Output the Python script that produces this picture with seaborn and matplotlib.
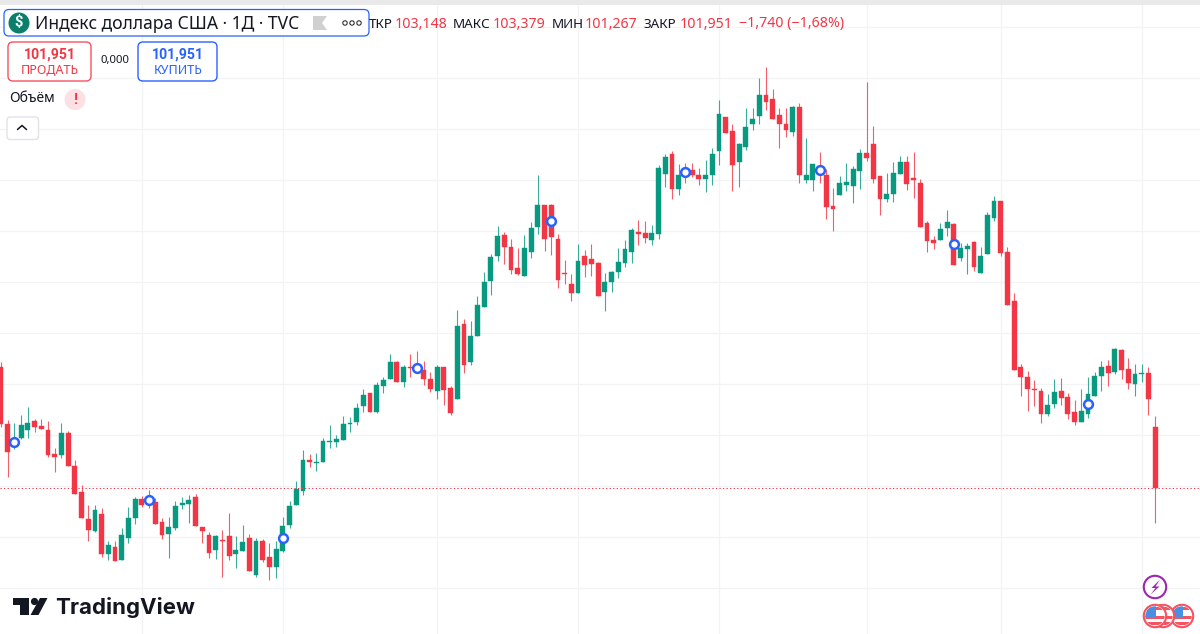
import numpy as np
import pandas as pd
import matplotlib
matplotlib.use('Agg')
import matplotlib.pyplot as plt
from matplotlib.patches import Circle, FancyBboxPatch, Polygon, Rectangle
import seaborn as sns

# Daily candles, oldest first
open_prices = [
    104.33,103.22,102.78,102.95,103.09,103.27,103.17,103.10,102.63,102.61,
    103.04,102.40,101.88,101.35,101.12,101.46,100.66,100.81,100.55,100.99,
    101.37,101.74,101.66,101.69,101.29,101.06,101.18,101.63,101.65,101.78,
    101.19,101.03,100.75,100.94,101.01,100.67,100.73,100.98,100.26,100.92,
    100.60,100.41,100.73,101.24,101.63,101.90,102.50,102.46,102.48,102.86,
    102.87,102.91,103.22,103.26,103.56,103.82,103.46,103.97,104.10,104.43,
    104.04,104.33,104.34,104.27,104.09,103.87,104.33,103.93,103.70,105.18,
    104.44,104.95,105.50,106.02,106.50,106.93,106.69,106.27,106.12,106.59,
    107.07,107.51,107.51,106.84,106.18,105.97,105.78,106.50,106.46,106.37,
    105.80,105.99,106.20,106.37,106.58,106.98,106.97,106.82,106.94,108.12,
    108.51,107.82,108.22,108.20,108.10,108.02,108.10,108.56,109.23,108.96,
    108.35,108.64,109.10,109.25,109.67,109.59,109.27,109.10,108.94,109.43,
    108.00,108.00,108.26,108.10,107.49,107.71,107.90,107.89,108.17,108.52,
    108.71,108.07,107.63,107.72,108.11,108.36,108.04,107.94,107.15,106.82,
    106.83,107.05,107.13,106.47,106.65,106.78,106.18,106.54,107.26,107.58,
    106.59,105.63,104.34,104.13,103.91,103.86,103.42,103.61,103.86,103.75,
    103.46,103.26,103.42,103.77,104.15,104.35,104.24,104.67,104.29,104.00,
    104.19,104.22,103.148]
high_prices = [
    104.43,103.29,103.24,103.39,103.54,103.31,103.31,103.27,102.74,103.24,
    103.07,102.50,102.01,101.63,101.63,101.56,100.92,100.92,101.18,101.58,
    101.79,101.81,101.92,101.77,101.37,101.39,101.70,101.78,101.83,101.84,
    101.19,101.10,101.04,101.14,101.48,101.02,101.24,101.05,100.99,100.97,
    100.89,100.92,101.39,101.71,102.10,102.71,102.62,102.64,102.95,103.19,
    103.00,103.37,103.35,103.62,103.90,103.82,104.04,104.14,104.59,104.46,
    104.37,104.59,104.65,104.45,104.24,104.37,104.33,103.96,105.46,105.27,
    105.23,105.72,106.19,106.55,107.10,106.98,106.84,106.66,106.93,107.18,
    108.09,107.51,107.53,106.95,106.44,106.15,106.75,106.63,106.74,106.39,
    106.17,106.22,106.66,106.82,107.05,107.21,107.19,107.12,108.29,108.51,
    108.57,108.31,108.33,108.33,108.24,108.40,108.62,109.56,109.24,109.10,
    108.72,109.41,109.41,109.99,110.22,109.79,109.41,109.41,109.45,109.50,
    108.82,108.31,108.54,108.22,107.84,108.07,108.33,108.27,108.60,109.92,
    109.06,108.07,108.13,108.35,108.47,108.48,108.54,108.01,107.20,106.91,
    107.15,107.41,107.16,106.76,106.76,106.80,106.68,107.37,107.69,107.58,
    106.68,105.79,104.40,104.26,104.07,103.93,103.80,104.09,104.11,103.82,
    103.69,103.91,104.14,104.24,104.45,104.48,104.71,104.68,104.50,104.40,
    104.39,104.33,103.379]
low_prices = [
    103.15,102.18,102.72,102.93,102.94,103.05,103.11,102.56,102.28,102.54,
    102.40,101.84,101.37,100.93,101.09,100.60,100.54,100.52,100.55,100.89,
    101.26,101.58,101.56,101.26,100.96,100.59,101.14,101.55,101.27,101.22,
    100.89,100.59,100.57,100.22,100.54,100.40,100.73,100.33,100.22,100.50,
    100.16,100.19,100.71,101.17,101.63,101.82,102.38,102.30,102.48,102.74,
    102.77,102.91,103.05,103.20,103.46,103.46,103.44,103.83,104.10,104.03,
    103.95,104.13,104.22,103.98,103.85,103.70,103.59,103.39,103.70,104.21,
    104.37,104.95,105.50,105.75,106.42,106.35,106.16,106.14,106.12,106.48,
    106.95,106.61,106.52,105.89,105.97,105.63,105.78,106.10,106.12,105.73,
    105.44,105.81,106.07,106.29,106.38,106.73,106.77,106.72,106.85,107.86,
    107.63,107.71,107.95,108.05,107.90,107.77,107.90,108.29,108.92,107.78,
    107.87,108.59,108.98,109.10,109.37,109.20,108.63,108.85,108.87,107.95,
    107.95,107.78,107.95,107.24,106.99,107.71,107.79,107.54,107.83,108.37,
    107.95,107.32,107.57,107.56,108.11,107.81,107.65,107.07,106.59,106.65,
    106.83,106.90,106.34,106.41,106.16,106.22,106.18,106.54,107.20,106.50,
    105.55,104.28,103.77,103.48,103.57,103.23,103.37,103.52,103.59,103.31,
    103.20,103.26,103.33,103.77,103.86,103.97,104.20,104.09,103.91,103.77,
    104.04,103.39,101.267]
close_prices = [
    103.22,102.67,102.92,103.20,103.24,103.16,103.12,102.60,102.56,103.04,
    102.40,101.84,101.37,101.13,101.52,100.66,100.85,100.53,101.03,101.37,
    101.75,101.63,101.77,101.26,101.04,101.19,101.61,101.67,101.73,101.22,
    101.11,100.69,101.02,100.93,100.63,100.75,100.90,100.33,100.92,100.55,
    100.41,100.76,101.22,101.61,101.94,102.50,102.48,102.48,102.88,102.88,
    102.92,103.22,103.24,103.53,103.78,103.46,103.98,104.08,104.43,104.03,
    104.33,104.31,104.26,104.10,103.90,104.33,103.88,103.44,105.14,104.37,
    104.95,105.54,105.99,106.49,106.90,106.69,106.24,106.16,106.66,107.05,
    107.51,106.85,106.89,106.04,106.16,105.78,106.41,106.34,106.35,105.73,
    105.99,106.19,106.40,106.64,107.02,106.95,106.86,106.97,108.24,108.45,
    107.82,108.10,108.09,108.10,108.02,108.10,108.51,109.29,108.93,108.29,
    108.71,109.03,109.20,109.67,109.52,109.20,109.09,108.98,109.43,108.09,
    108.10,108.31,108.13,107.48,107.44,107.94,107.96,108.22,108.52,108.44,
    108.01,107.63,107.73,108.13,108.35,107.93,107.99,107.08,106.81,106.76,
    107.04,107.18,106.34,106.66,106.71,106.29,106.50,107.31,107.58,106.56,
    105.55,104.28,104.14,103.90,103.89,103.41,103.58,103.84,103.73,103.41,
    103.25,103.47,103.80,104.16,104.33,104.22,104.69,104.27,104.01,104.20,
    104.22,103.70,101.951]

# Blue event circles
event_bars = [2, 22, 42, 62, 82, 102, 122, 142, 162]
event_prices = [102.86, 101.73, 100.98, 104.31, 107.20, 108.16, 108.20, 106.75, 103.61]

# Grid positions
grid_bars = [21, 42, 65, 86, 107, 129, 149, 170]
grid_prices = list(range(100, 112))

RED = '#F23645'
GREEN = '#089981'
BLUE = '#2962FF'
GRID = '#F2F3F5'
INK = '#131722'

sns.set_theme(style='white')
plt.rcParams['font.family'] = ['Noto Sans', 'DejaVu Sans']

df = pd.DataFrame({'bar': np.arange(len(open_prices)), 'open': open_prices, 'high': high_prices,
                   'low': low_prices, 'close': close_prices})
df['body'] = (df['close'] - df['open']).abs()
df['bottom'] = df[['open', 'close']].min(axis=1)
df['up'] = df['close'] > df['open']

fig = plt.figure(figsize=(12, 6.34), dpi=100, facecolor='white')
ax = fig.add_axes([0, 0, 1, 1])

# Candles
for is_up, color in [(True, GREEN), (False, RED)]:
    part = df[df['up'] == is_up]
    ax.vlines(part['bar'], part['low'], part['high'], color=color, linewidth=0.8, alpha=0.8, zorder=2)
    sns.barplot(data=part, x='bar', y='body', bottom=part['bottom'].values, native_scale=True,
                color=color, saturation=1, width=0.72, errorbar=None, edgecolor=color,
                linewidth=0.3, zorder=3, ax=ax)

# Last price line
ax.axhline(close_prices[-1], color=RED, linewidth=0.75, linestyle=(0, (1.2, 2.2)), zorder=4)

sns.scatterplot(x=event_bars, y=event_prices, s=40, facecolor='white', edgecolor=BLUE,
                linewidth=1.8, zorder=5, ax=ax)

ax.set_xlim(-0.149, 178.69)
ax.set_ylim(99.098, 111.529)
ax.set_xticks(grid_bars)
ax.set_yticks(grid_prices)
ax.set_xticklabels([])
ax.set_yticklabels([])
ax.tick_params(length=0)
ax.set_xlabel('')
ax.set_ylabel('')
ax.grid(True, color=GRID, linewidth=0.9)
ax.set_axisbelow(True)
sns.despine(ax=ax, left=True, bottom=True)

# Interface overlay in screen pixels
ui = fig.add_axes([0, 0, 1, 1], facecolor='none', zorder=10)
ui.set_xlim(0, 1200)
ui.set_ylim(634, 0)
ui.axis('off')
ui.add_patch(Rectangle((0, 0), 1200, 4.5, color='#E9E9EA', lw=0))


def box(x0, y0, x1, y1, edge, lw=1.0, r=5):
    ui.add_patch(FancyBboxPatch((x0 + r, y0 + r), x1 - x0 - 2 * r, y1 - y0 - 2 * r,
                                boxstyle='round,pad=%d,rounding_size=%d' % (r, r),
                                facecolor='white', edgecolor=edge, linewidth=lw))


def label(x, y, s, size=9.7, color=INK, ha='left', weight='normal', family=None):
    ui.text(x, y, s, fontsize=size, color=color, ha=ha, va='center', fontweight=weight,
            family=family or ['Noto Sans', 'DejaVu Sans'])


# Legend values sit behind the title box
label(369, 24, 'ТКР')
for x, s in [(395, '103,148'), (493, '103,379'), (585, '101,267'), (680, '101,951'),
             (739, '−1,740 (−1,68%)')]:
    label(x, 24, s, size=10.2, color=RED)
label(453, 24, 'МАКС')
label(552, 24, 'МИН')
label(644, 24, 'ЗАКР')

box(4, 9.5, 369, 36, BLUE, lw=0.9)
ui.add_patch(Circle((19, 23), 10.5, color='#0B7F6B', lw=0))
ui.text(19, 22.5, '$', color='white', fontsize=10.5, fontweight='bold', ha='center', va='center',
        family=['Roboto', 'DejaVu Sans'])
label(35, 24, 'Индекс доллара США · 1Д · TVC', size=12.6)
ui.add_patch(Polygon([(313, 16), (327, 16), (322, 23), (327, 30), (313, 30)], color='#D0D0D0', lw=0))
for cx in [345, 352, 359]:
    ui.add_patch(Circle((cx, 23), 2.2, facecolor='white', edgecolor='#333333', linewidth=0.8))

box(8, 42, 91, 81, '#F7525F')
label(50, 54.5, '101,951', color=RED, ha='center', weight='bold', size=10.2, family=['Roboto', 'DejaVu Sans'])
label(50, 70.5, 'ПРОДАТЬ', color=RED, ha='center', size=9)
label(115, 60.5, '0,000', ha='center', size=8.2)
box(138, 42, 217, 81, BLUE)
label(178, 54.5, '101,951', color=BLUE, ha='center', weight='bold', size=10.2, family=['Roboto', 'DejaVu Sans'])
label(178, 70.5, 'КУПИТЬ', color=BLUE, ha='center', size=9)

label(9, 99, 'Объём', size=10)
ui.add_patch(Circle((75, 99.5), 10.5, color='#FDE0E3', lw=0))
label(75, 99.5, '!', color=RED, ha='center', weight='bold', size=11, family=['Roboto', 'DejaVu Sans'])

box(7, 117, 38.5, 139.5, '#E0E3EB', r=3)
ui.plot([17.5, 22, 26.5], [129.5, 125.5, 129.5], color=INK, linewidth=1.1)

# TradingView logo
ui.add_patch(Polygon([(13, 598), (29, 598), (29, 615), (20, 615), (20, 605), (13, 605)], color=INK, lw=0))
ui.add_patch(Circle((34.5, 601.5), 3.6, color=INK, lw=0))
ui.add_patch(Polygon([(40, 598), (47.5, 598), (38.5, 615), (30.5, 615)], color=INK, lw=0))
ui.text(55, 607, 'TradingView', fontsize=16, fontweight='bold', family=['Inter', 'DejaVu Sans'],
        color=INK, ha='left', va='center')

# Lightning badge
ui.add_patch(Circle((1155, 587), 11.2, facecolor='white', edgecolor='#9C27B0', linewidth=1.5))
ui.add_patch(Polygon([(1160, 579.5), (1151.5, 588), (1155.5, 588), (1150.5, 594.5), (1159.5, 586.5), (1155.5, 586.5)],
                     color='#9C27B0', lw=0))


# Flag badges, back to front
def flag(cx, cy, r=11.2):
    rim = Circle((cx, cy), r, facecolor='white', edgecolor='#F7525F', linewidth=1.5, zorder=6)
    ui.add_patch(rim)
    clip = Circle((cx, cy), r - 1.5, transform=ui.transData)
    parts = [Rectangle((cx - r, cy - r + 2), 2 * r, 3, color='#F7525F', lw=0),
             Rectangle((cx - r, cy - 0.5), 2 * r, 3.2, color='#F7525F', lw=0),
             Rectangle((cx - r, cy + 5.5), 2 * r, 3.5, color='#F7525F', lw=0),
             Rectangle((cx - r, cy - r), r + 0.5, r + 0.5, color='#4A90E2', lw=0)]
    for part in parts:
        part.set_zorder(6)
        ui.add_patch(part)
        part.set_clip_path(clip)


for cx in [1182, 1163, 1155]:
    flag(cx, 616)

plt.savefig('out.png', dpi=100, facecolor='white')
